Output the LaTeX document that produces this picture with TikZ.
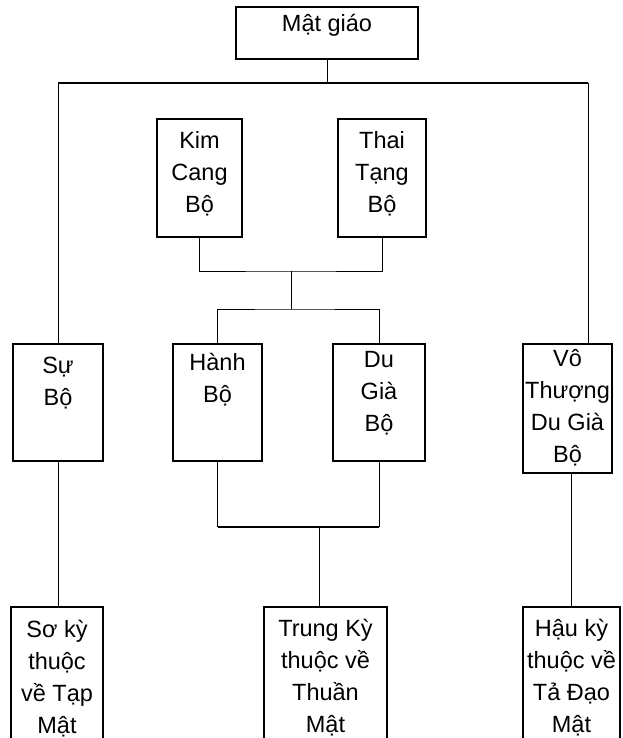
\documentclass[tikz,border=0pt]{standalone}
\usepackage{fontspec}
\setmainfont{Liberation Sans}

\begin{document}
\begin{tikzpicture}[x=1pt, y=-1pt,
  box/.style={draw, line width=1.3pt, inner sep=0pt},
  lbl/.style={anchor=north, align=center, inner sep=0pt,
    font=\fontsize{23.5}{32}\selectfont, execute at begin node=\strut},
  link/.style={line width=0.8pt},
  bar/.style={line width=1.8pt}]

\useasboundingbox (0,0) rectangle (622,738);
\clip (0,0) rectangle (622,738);

% boxes
\node[box, minimum width=182pt, minimum height=52pt] (mat) at (327,33) {};
\node[box, minimum width=85pt, minimum height=118pt] (kim) at (199.5,178) {};
\node[box, minimum width=88pt, minimum height=118pt] (thai) at (382,178) {};
\node[box, minimum width=90pt, minimum height=117pt] (su) at (58,402.5) {};
\node[box, minimum width=89pt, minimum height=117pt] (hanh) at (217.5,402.5) {};
\node[box, minimum width=92pt, minimum height=117pt] (du) at (379,402.5) {};
\node[box, minimum width=89pt, minimum height=129pt] (vo) at (567.5,408.5) {};
\node[box, minimum width=92pt, minimum height=163pt] (so) at (57,688.5) {};
\node[box, minimum width=123pt, minimum height=163pt] (trung) at (325.5,688.5) {};
\node[box, minimum width=97pt, minimum height=163pt] (hau) at (571.5,688.5) {};

% texts
\node[lbl] (mat-t) at ([yshift=-2.6pt]mat.north) {Mật giáo};
\node[lbl] (kim-t) at ([yshift=-12.6pt]kim.north) {Kim\\Cang\\Bộ};
\node[lbl] (thai-t) at ([yshift=-12.6pt]thai.north) {Thai\\Tạng\\Bộ};
\node[lbl] (su-t) at ([yshift=-14pt]su.north) {Sự\\Bộ};
\node[lbl] (hanh-t) at ([yshift=-10pt]hanh.north) {Hành\\Bộ};
\node[lbl] (du-t) at ([yshift=-8pt]du.north) {Du\\Già\\Bộ};
\node[lbl] (vo-t) at ([yshift=-6pt]vo.north) {Vô\\Thượng\\Du Già\\Bộ};
\node[lbl] (so-t) at ([yshift=-14pt]so.north) {Sơ kỳ\\thuộc\\về Tạp\\Mật};
\node[lbl] (trung-t) at ([yshift=-12.6pt]trung.north) {Trung Kỳ\\thuộc về\\Thuần\\Mật};
\node[lbl] (hau-t) at ([yshift=-12.6pt]hau.north) {Hậu kỳ\\thuộc về\\Tả Đạo\\Mật};

% junctions
\coordinate (barR) at (588,83);
\coordinate (kt) at (291,271);
\coordinate (hd) at (291,309);
\coordinate (ht) at (319,527);

% connectors
\draw[link] (mat.south) -- (mat.south |- barR);
\draw[bar] (su.north |- barR) -- (barR);
\draw[link] (su.north) -- (su.north |- barR);
\draw[link] (barR) -- (barR |- vo.north);
\draw[link] (kim.south) |- (kt) -| (thai.south);
\draw[link] (kt) -- (hd);
\draw[link] (hanh.north) |- (hd) -| (du.north);
\draw[link] (hanh.south) -- (hanh.south |- ht);
\draw[link] (du.south) -- (du.south |- ht);
\draw[bar] (hanh.south |- ht) -- (du.south |- ht);
\draw[link] (ht) -- (ht |- trung.north);
\draw[link] (su.south) -- (su.south |- so.north);
\draw[link] (hau.north) -- (hau.north |- vo.south);

\end{tikzpicture}
\end{document}
